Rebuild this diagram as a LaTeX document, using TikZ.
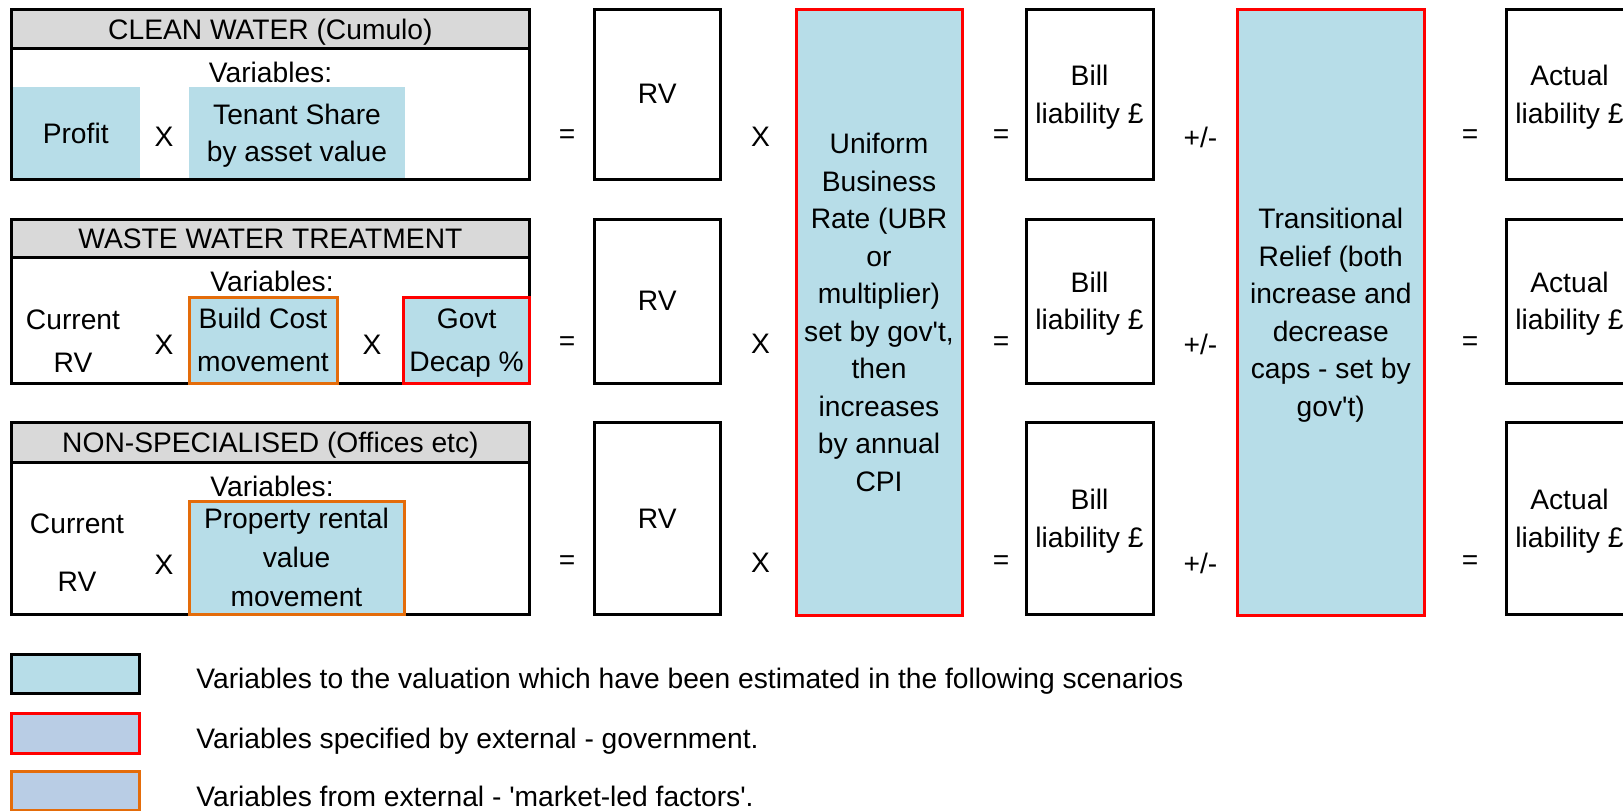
\documentclass[tikz,border=0pt]{standalone}
\usepackage{fontspec}
\setmainfont{Liberation Sans}[Ligatures=TeXOff]
\usepackage{xcolor}
\usetikzlibrary{positioning}
\definecolor{varblue}{HTML}{B7DDE8}
\definecolor{extblue}{HTML}{B9CDE5}
\definecolor{hdrgrey}{HTML}{D9D9D9}
\definecolor{govred}{HTML}{FF0000}
\definecolor{mktorange}{HTML}{E46C0A}
\newdimen\px
\px=0.5pt
\tikzset{
  sz/.style 2 args={minimum width=#1\px, minimum height=#2\px, anchor=north west},
  frame/.style={draw=black, line width=1.5pt},
  hdr/.style={frame, fill=hdrgrey},
  estbox/.style={fill=varblue},
  govbox/.style={draw=govred, line width=1.5pt, fill=varblue, align=center},
  mktbox/.style={draw=mktorange, line width=1.5pt, fill=varblue, align=center},
  wide/.style={align=center, font=\fontsize{14.1}{21.75}\selectfont},
  keytext/.style={right=57\px of #1, yshift=-2.5pt},
}
\begin{document}
\begin{tikzpicture}[x=0.5pt, y=-0.5pt, font=\fontsize{14.1}{18.75}\selectfont,
    inner sep=0pt, outer sep=0pt, text depth=0pt]
  \useasboundingbox (0,0) rectangle (1623,810);
  \clip (0,0) rectangle (1623,810);

  % clean water
  \node[estbox, sz={128.6}{92.3}] (profit) at (11.4,86.7) {Profit};
  \node[estbox, sz={216}{92.3}, align=center] (share) at (189,86.7) {Tenant Share\\by asset value};
  \node[frame, sz={518}{169.5}] (cw) at (11.4,9.5) {};
  \node[hdr, sz={518}{39}] (cwhead) at (11.4,9.5) {CLEAN WATER (Cumulo)};
  \node (cwvar) at (270.5,72) {Variables:};
  \node (cwx) at (164,137) {X};

  % waste water
  \node[frame, sz={518}{164}] (wwt) at (11.4,219) {};
  \node[hdr, sz={518}{38.5}] (wwthead) at (11.4,219) {WASTE WATER TREATMENT};
  \node (wwtvar) at (272,281) {Variables:};
  \node[wide] (wwtrv) at (73,341) {Current\\RV};
  \node (wwtxa) at (164,345) {X};
  \node[mktbox, sz={148}{86}, wide] (build) at (189,297) {Build Cost\\movement};
  \node (wwtxb) at (372,345) {X};
  \node[govbox, sz={126}{86}, wide] (decap) at (403.6,297) {Govt\\Decap \%};

  % non-specialised
  \node[frame, sz={518}{192}] (ns) at (11.4,422.5) {};
  \node[hdr, sz={518}{40}] (nshead) at (11.4,422.5) {NON-SPECIALISED (Offices etc)};
  \node (nsvar) at (272,486) {Variables:};
  \node[align=center, font=\fontsize{14.1}{29}\selectfont] (nsrv) at (77,553) {Current\\RV};
  \node (nsx) at (164,565) {X};
  \node[mktbox, sz={215}{113.5}, font=\fontsize{14.1}{19.5}\selectfont] (rental) at (189,501) {Property rental\\value\\movement};

  % value boxes, one set per row
  \foreach \r/\ty/\hy/\sy in {1/9.5/169.5/137, 2/219/164/344, 3/422.5/192/563} {
    \node[frame, sz={126.5}{\hy}] (rv\r) at (594,\ty) {RV};
    \node[frame, sz={127}{\hy}, align=center] (bill\r) at (1026,\ty) {Bill\\liability £};
    \node[frame, sz={127}{\hy}, align=center] (act\r) at (1506,\ty) {Actual\\liability £};
    \node (eqa\r) at (567,\sy) {=};
    \node (times\r) at (760.5,\sy) {X};
    \node (eqb\r) at (1001,\sy) {=};
    \node (pm\r) at (1200.5,\sy) {+/-};
    \node (eqc\r) at (1470,\sy) {=};
  }
  \node[govbox, sz={166}{605.5}] (ubr) at (796,9.5)
    {Uniform\\Business\\Rate (UBR\\or\\multiplier)\\set by gov't,\\then\\increases\\by annual\\CPI};
  \node[govbox, sz={187.5}{605.5}] (relief) at (1237,9.5)
    {Transitional\\Relief (both\\increase and\\decrease\\caps - set by\\gov't)};

  % key
  \node[frame, fill=varblue, sz={128}{39.5}] (leg1) at (11.4,654) {};
  \node[draw=govred, line width=1.5pt, fill=extblue, sz={128}{40}] (leg2) at (11.4,713.5) {};
  \node[draw=mktorange, line width=1.5pt, fill=extblue, sz={128}{39}] (leg3) at (11.4,771.5) {};
  \node[keytext=leg1] (leg1txt) {Variables to the valuation which have been estimated in the following scenarios};
  \node[keytext=leg2] (leg2txt) {Variables specified by external - government.};
  \node[keytext=leg3] (leg3txt) {Variables from external - 'market-led factors'.};
\end{tikzpicture}
\end{document}
